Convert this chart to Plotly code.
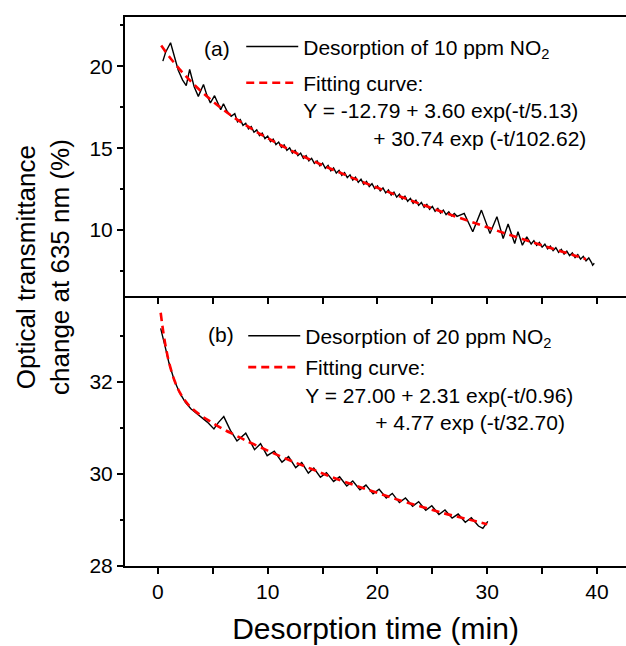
import plotly.graph_objects as go

# ---------------- data ----------------
# Panel (a): desorption of 10 ppm NO2
t_a_meas = [0.45, 0.7, 1.15, 1.5, 1.85, 2.25, 2.58, 2.89, 3.3, 3.68, 4.15, 4.45, 4.78, 5.16, 5.45,
            5.72, 5.97, 6.3, 6.67, 7.0,
            7.25, 7.5, 7.75, 8.0, 8.25, 8.5, 8.75, 9.0, 9.25, 9.5, 9.75, 10.0, 10.25, 10.5, 10.75, 11.0,
            11.25, 11.5, 11.75, 12.0, 12.25, 12.5, 12.75, 13.0, 13.25, 13.5, 13.75, 14.0, 14.25, 14.5,
            14.75, 15.0, 15.25, 15.5, 15.75, 16.0, 16.25, 16.5, 16.75, 17.0, 17.25, 17.5, 17.75, 18.0,
            18.25, 18.5, 18.75, 19.0, 19.25, 19.5, 19.75, 20.0, 20.25, 20.5, 20.75, 21.0, 21.25, 21.5,
            21.75, 22.0, 22.25, 22.5, 22.75, 23.0, 23.25, 23.5, 23.75, 24.0, 24.25, 24.5, 24.75, 25.0,
            25.25, 25.5, 25.75, 26.0, 26.25, 26.5, 26.75, 27.0, 27.25,
            27.9, 28.68, 29.47, 30.25, 30.88, 31.45, 31.9, 32.5, 32.8, 33.2, 33.6,
            34.0, 34.25, 34.5, 34.75, 35.0, 35.25, 35.5, 35.75, 36.0, 36.25, 36.5, 36.75, 37.0, 37.25,
            37.5, 37.75, 38.0, 38.25, 38.5, 38.75, 39.0, 39.25, 39.5, 39.6, 39.75]
y_a_meas = [20.31, 20.85, 21.43, 20.55, 19.75, 19.15, 18.82, 19.80, 18.75, 18.16, 18.88, 18.25, 17.76,
            18.20, 17.70, 17.35, 17.71, 17.25, 16.94, 17.10,
            16.61, 16.74, 16.39, 16.52, 16.18, 16.31, 15.97, 16.11, 15.77, 15.92, 15.58, 15.73, 15.40,
            15.55, 15.22, 15.37, 15.05, 15.20, 14.87, 15.02, 14.70, 14.86, 14.54, 14.70, 14.38, 14.54,
            14.22, 14.38, 14.07, 14.23, 13.92, 14.08, 13.77, 13.94, 13.62, 13.79, 13.48, 13.65, 13.34,
            13.51, 13.20, 13.37, 13.06, 13.23, 12.92, 13.10, 12.79, 12.97, 12.66, 12.83, 12.53, 12.70,
            12.40, 12.57, 12.27, 12.45, 12.14, 12.32, 12.01, 12.19, 11.89, 12.07, 11.76, 11.94, 11.64,
            11.82, 11.51, 11.69, 11.39, 11.57, 11.27, 11.45, 11.15, 11.33, 11.04, 11.22, 10.95, 11.12,
            10.86, 11.02, 10.84,
            11.02, 9.90, 11.22, 9.80, 10.82, 9.49, 10.37, 9.18, 9.90, 9.08, 9.59,
            9.15, 9.36, 9.07, 9.25, 8.96, 9.14, 8.86, 9.03, 8.75, 8.93, 8.65, 8.82, 8.54, 8.72,
            8.44, 8.61, 8.33, 8.51, 8.23, 8.40, 8.13, 8.30, 8.02, 7.86, 7.98]

t_a_fit = [0.3, 1, 2, 3, 4, 5, 6, 7, 8, 9, 10, 12, 14, 16, 18, 20, 22, 24, 26, 28, 30, 32, 34, 36, 38, 39]
y_a_fit = [21.26, 20.61, 19.79, 19.07, 18.43, 17.85, 17.32, 16.84, 16.40, 15.99, 15.61, 14.90, 14.26,
           13.67, 13.11, 12.58, 12.07, 11.57, 11.09, 10.63, 10.17, 9.72, 9.29, 8.86, 8.44, 8.23]

# Panel (b): desorption of 20 ppm NO2
t_b_meas = [0.25, 0.5, 0.75, 1.0, 1.5, 2.0, 2.5, 3.0, 3.5, 4.0, 4.5, 5.1, 5.5, 6.0, 6.6, 7.2, 8.0, 8.8,
            9.35, 9.95, 10.6, 11.3, 11.9, 12.55, 13.1, 13.7, 14.2, 14.8, 15.35, 16.0, 16.55, 17.2, 17.75,
            18.4, 18.95, 19.6, 20.15, 20.8, 21.35, 22.0, 22.55, 23.2, 23.75, 24.4, 24.95, 25.6, 26.15,
            26.8, 27.35, 28.0, 28.55, 29.2, 29.6, 30.05]
y_b_meas = [33.17, 32.95, 32.68, 32.42, 32.03, 31.76, 31.56, 31.42, 31.32, 31.24, 31.13, 30.98, 31.12,
            31.25, 30.95, 30.72, 30.89, 30.53, 30.66, 30.40, 30.50, 30.26, 30.38, 30.14, 30.25, 30.02,
            30.13, 29.93, 30.03, 29.84, 29.94, 29.74, 29.85, 29.66, 29.76, 29.57, 29.67, 29.48, 29.58,
            29.38, 29.48, 29.30, 29.40, 29.21, 29.31, 29.12, 29.22, 29.04, 29.13, 28.95, 29.05, 28.87,
            28.82, 28.97]

t_b_fit = [0.25, 0.5, 0.75, 1.0, 1.5, 2.0, 2.5, 3.0, 4.0, 5.0, 6.0, 7.0, 8.0, 10, 12, 14, 16, 18, 20,
           22, 24, 26, 28, 30]
y_b_fit = [33.51, 33.07, 32.72, 32.44, 32.04, 31.77, 31.59, 31.45, 31.26, 31.11, 30.97, 30.85, 30.73,
           30.51, 30.30, 30.11, 29.92, 29.75, 29.59, 29.43, 29.29, 29.15, 29.03, 28.91]

# axis ticks
x_ticks = [0, 10, 20, 30, 40]
x_minor = [5, 15, 25, 35]
ya_ticks = [10, 15, 20]
ya_minor = [7.5, 12.5, 17.5, 22.5]
yb_ticks = [28, 30, 32]
yb_minor = [29, 31, 33]

FONT = "Liberation Sans, Arial, sans-serif"

fig = go.Figure()

fig.add_trace(go.Scatter(x=t_a_meas, y=y_a_meas, mode="lines", name="Desorption of 10 ppm NO<sub>2</sub>",
                         line=dict(color="black", width=1.4), xaxis="x2", yaxis="y2",
                         legend="legend", legendgroup="a1"))
fig.add_trace(go.Scatter(x=t_a_fit, y=y_a_fit, mode="lines", line_shape="spline",
                         name="Fitting curve:<br>Y = -12.79 + 3.60 exp(-t/5.13)<br>"
                              + "\u00a0" * 12 + "+ 30.74 exp (-t/102.62)",
                         line=dict(color="#ff0000", width=2.6, dash="8px,5px"),
                         xaxis="x2", yaxis="y2", legend="legend", legendgroup="a2"))
fig.add_trace(go.Scatter(x=t_b_meas, y=y_b_meas, mode="lines", name="Desorption of 20 ppm NO<sub>2</sub>",
                         line=dict(color="black", width=1.4), xaxis="x", yaxis="y",
                         legend="legend2", legendgroup="b1"))
fig.add_trace(go.Scatter(x=t_b_fit, y=y_b_fit, mode="lines", line_shape="spline",
                         name="Fitting curve:<br>Y = 27.00 + 2.31 exp(-t/0.96)<br>"
                              + "\u00a0" * 12 + "+ 4.77 exp (-t/32.70)",
                         line=dict(color="#ff0000", width=2.6, dash="8px,5px"),
                         xaxis="x", yaxis="y", legend="legend2", legendgroup="b2"))

split = 270.3 / 549.0
xrange = [-3.0, 42.64]
tickfont = dict(family=FONT, size=21, color="black")

common_x = dict(range=xrange, showgrid=False, zeroline=False, showline=True, linecolor="black",
                linewidth=2, ticks="outside", ticklen=6, tickwidth=1.5, tickcolor="black",
                tickvals=x_ticks, tickfont=tickfont,
                minor=dict(tickvals=x_minor, ticks="outside", ticklen=6, tickwidth=1.5, tickcolor="black"))

legfont = dict(family=FONT, size=21, color="black")

fig.update_layout(
    width=626, height=646,
    margin=dict(l=125, r=0, t=17, b=80),
    paper_bgcolor="white", plot_bgcolor="white",
    font=dict(family=FONT, color="black"),
    xaxis=dict(common_x, domain=[0, 1], anchor="y", showticklabels=True,
               title=dict(text="Desorption time (min)", font=dict(family=FONT, size=30), standoff=16)),
    xaxis2=dict(common_x, domain=[0, 1], anchor="y2", showticklabels=False, mirror=True),
    yaxis=dict(domain=[0, split], range=[28, 33.88], anchor="x", showgrid=False, zeroline=False,
               showline=True, linecolor="black", linewidth=2, ticks="outside", ticklen=6,
               tickwidth=1.5, tickcolor="black", tickvals=yb_ticks, tickfont=tickfont,
               minor=dict(tickvals=yb_minor, ticks="outside", ticklen=3, tickwidth=1.5, tickcolor="black")),
    yaxis2=dict(domain=[split, 1], range=[6, 23], anchor="x2", showgrid=False, zeroline=False,
                showline=True, linecolor="black", linewidth=2, ticks="outside", ticklen=6,
                tickwidth=1.5, tickcolor="black", tickvals=ya_ticks, tickfont=tickfont,
                minor=dict(tickvals=ya_minor, ticks="outside", ticklen=3, tickwidth=1.5, tickcolor="black")),
    legend=dict(x=0.232, y=0.983, xanchor="left", yanchor="top", bgcolor="rgba(0,0,0,0)",
                font=legfont, valign="top", traceorder="grouped", tracegroupgap=6, itemwidth=52),
    legend2=dict(x=0.236, y=0.456, xanchor="left", yanchor="top", bgcolor="rgba(0,0,0,0)",
                 font=legfont, valign="top", traceorder="grouped", tracegroupgap=1, itemwidth=52),
    showlegend=True,
)

fig.add_annotation(text="(a)", xref="paper", yref="paper", x=0.1836, y=0.9435, showarrow=False,
                   xanchor="center", yanchor="middle", font=legfont)
fig.add_annotation(text="(b)", xref="paper", yref="paper", x=0.1916, y=0.4208, showarrow=False,
                   xanchor="center", yanchor="middle", font=legfont)
fig.add_annotation(text="Optical transmittance<br>change at 635 nm (%)", xref="paper", yref="paper",
                   x=(43 - 125) / 501.0, y=(566 - 267) / 549.0, showarrow=False, textangle=-90,
                   font=dict(family=FONT, size=26, color="black"), xanchor="center", yanchor="middle")

fig.write_html("out.html", config={"displayModeBar": False},
               post_script="document.body.style.margin='0';")
